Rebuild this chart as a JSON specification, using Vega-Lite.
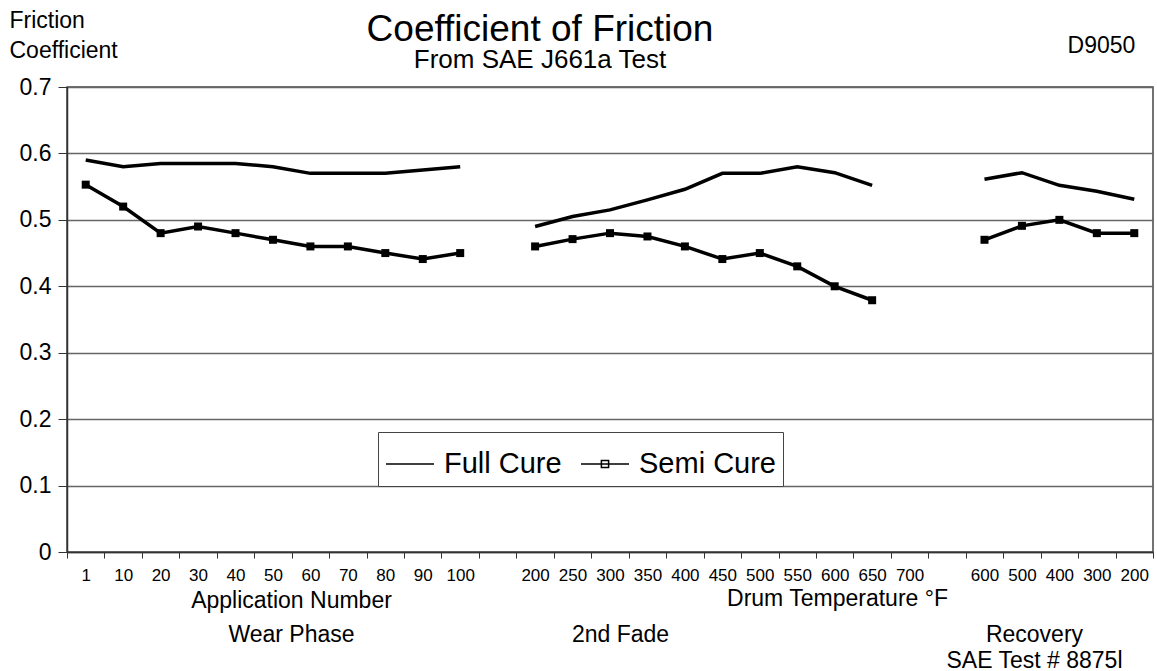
{
  "$schema": "https://vega.github.io/schema/vega-lite/v6.json",
  "autosize": "none",
  "width": 1086,
  "height": 465,
  "padding": {"left": 67, "top": 87, "right": 4, "bottom": 119},
  "background": "white",
  "config": {
    "font": "Liberation Sans",
    "view": {"stroke": "#444", "strokeWidth": 1.5},
    "axis": {"labelColor": "black", "titleColor": "black", "titleFontWeight": "normal", "domainColor": "#333", "tickColor": "#333"}
  },
  "title": {
    "text": "Coefficient of Friction",
    "subtitle": "From SAE J661a Test",
    "fontSize": 37,
    "subtitleFontSize": 26,
    "fontWeight": "normal",
    "color": "black",
    "subtitleColor": "black",
    "anchor": "middle",
    "frame": "group",
    "dx": -70,
    "dy": 69,
    "offset": 4,
    "subtitlePadding": -2
  },
  "data": {
    "values": [
      {"k": "w1", "i": 0, "series": "Full Cure", "phase": "Wear", "v": 0.59},
      {"k": "w10", "i": 1, "series": "Full Cure", "phase": "Wear", "v": 0.58},
      {"k": "w20", "i": 2, "series": "Full Cure", "phase": "Wear", "v": 0.585},
      {"k": "w30", "i": 3, "series": "Full Cure", "phase": "Wear", "v": 0.585},
      {"k": "w40", "i": 4, "series": "Full Cure", "phase": "Wear", "v": 0.585},
      {"k": "w50", "i": 5, "series": "Full Cure", "phase": "Wear", "v": 0.58},
      {"k": "w60", "i": 6, "series": "Full Cure", "phase": "Wear", "v": 0.57},
      {"k": "w70", "i": 7, "series": "Full Cure", "phase": "Wear", "v": 0.57},
      {"k": "w80", "i": 8, "series": "Full Cure", "phase": "Wear", "v": 0.57},
      {"k": "w90", "i": 9, "series": "Full Cure", "phase": "Wear", "v": 0.575},
      {"k": "w100", "i": 10, "series": "Full Cure", "phase": "Wear", "v": 0.58},
      {"k": "f200", "i": 12, "series": "Full Cure", "phase": "Fade", "v": 0.49},
      {"k": "f250", "i": 13, "series": "Full Cure", "phase": "Fade", "v": 0.505},
      {"k": "f300", "i": 14, "series": "Full Cure", "phase": "Fade", "v": 0.515},
      {"k": "f350", "i": 15, "series": "Full Cure", "phase": "Fade", "v": 0.53},
      {"k": "f400", "i": 16, "series": "Full Cure", "phase": "Fade", "v": 0.546},
      {"k": "f450", "i": 17, "series": "Full Cure", "phase": "Fade", "v": 0.57},
      {"k": "f500", "i": 18, "series": "Full Cure", "phase": "Fade", "v": 0.57},
      {"k": "f550", "i": 19, "series": "Full Cure", "phase": "Fade", "v": 0.58},
      {"k": "f600", "i": 20, "series": "Full Cure", "phase": "Fade", "v": 0.571},
      {"k": "f650", "i": 21, "series": "Full Cure", "phase": "Fade", "v": 0.552},
      {"k": "r600", "i": 24, "series": "Full Cure", "phase": "Recovery", "v": 0.561},
      {"k": "r500", "i": 25, "series": "Full Cure", "phase": "Recovery", "v": 0.571},
      {"k": "r400", "i": 26, "series": "Full Cure", "phase": "Recovery", "v": 0.552},
      {"k": "r300", "i": 27, "series": "Full Cure", "phase": "Recovery", "v": 0.543},
      {"k": "r200", "i": 28, "series": "Full Cure", "phase": "Recovery", "v": 0.531},
      {"k": "w1", "i": 0, "series": "Semi Cure", "phase": "Wear", "v": 0.553},
      {"k": "w10", "i": 1, "series": "Semi Cure", "phase": "Wear", "v": 0.52},
      {"k": "w20", "i": 2, "series": "Semi Cure", "phase": "Wear", "v": 0.48},
      {"k": "w30", "i": 3, "series": "Semi Cure", "phase": "Wear", "v": 0.49},
      {"k": "w40", "i": 4, "series": "Semi Cure", "phase": "Wear", "v": 0.48},
      {"k": "w50", "i": 5, "series": "Semi Cure", "phase": "Wear", "v": 0.47},
      {"k": "w60", "i": 6, "series": "Semi Cure", "phase": "Wear", "v": 0.46},
      {"k": "w70", "i": 7, "series": "Semi Cure", "phase": "Wear", "v": 0.46},
      {"k": "w80", "i": 8, "series": "Semi Cure", "phase": "Wear", "v": 0.45},
      {"k": "w90", "i": 9, "series": "Semi Cure", "phase": "Wear", "v": 0.441},
      {"k": "w100", "i": 10, "series": "Semi Cure", "phase": "Wear", "v": 0.45},
      {"k": "f200", "i": 12, "series": "Semi Cure", "phase": "Fade", "v": 0.46},
      {"k": "f250", "i": 13, "series": "Semi Cure", "phase": "Fade", "v": 0.471},
      {"k": "f300", "i": 14, "series": "Semi Cure", "phase": "Fade", "v": 0.48},
      {"k": "f350", "i": 15, "series": "Semi Cure", "phase": "Fade", "v": 0.475},
      {"k": "f400", "i": 16, "series": "Semi Cure", "phase": "Fade", "v": 0.46},
      {"k": "f450", "i": 17, "series": "Semi Cure", "phase": "Fade", "v": 0.441},
      {"k": "f500", "i": 18, "series": "Semi Cure", "phase": "Fade", "v": 0.45},
      {"k": "f550", "i": 19, "series": "Semi Cure", "phase": "Fade", "v": 0.43},
      {"k": "f600", "i": 20, "series": "Semi Cure", "phase": "Fade", "v": 0.40},
      {"k": "f650", "i": 21, "series": "Semi Cure", "phase": "Fade", "v": 0.379},
      {"k": "r600", "i": 24, "series": "Semi Cure", "phase": "Recovery", "v": 0.47},
      {"k": "r500", "i": 25, "series": "Semi Cure", "phase": "Recovery", "v": 0.491},
      {"k": "r400", "i": 26, "series": "Semi Cure", "phase": "Recovery", "v": 0.50},
      {"k": "r300", "i": 27, "series": "Semi Cure", "phase": "Recovery", "v": 0.48},
      {"k": "r200", "i": 28, "series": "Semi Cure", "phase": "Recovery", "v": 0.48}
    ]
  },
  "layer": [
    {
      "mark": {"type": "line", "color": "black", "strokeWidth": 3.5},
      "encoding": {
        "x": {
          "field": "k",
          "type": "ordinal",
          "scale": {
            "domain": ["w1", "w10", "w20", "w30", "w40", "w50", "w60", "w70", "w80", "w90", "w100", "gap1", "f200", "f250", "f300", "f350", "f400", "f450", "f500", "f550", "f600", "f650", "f700", "gap2", "r600", "r500", "r400", "r300", "r200"],
            "paddingInner": 0,
            "paddingOuter": 0
          },
          "axis": {
            "orient": "bottom",
            "labelExpr": "isString(datum.value) && indexof(datum.value, 'gap') < 0 ? substring(datum.value, 1) : ''",
            "labelAngle": 0,
            "labelFontSize": 17,
            "labelPadding": 9,
            "tickBand": "extent",
            "tickSize": 6,
            "domainWidth": 1.5,
            "grid": false,
            "title": ["Application Number", "Wear Phase"],
            "titleFontSize": 23,
            "titleAlign": "center",
            "titleBaseline": "alphabetic",
            "titleX": 224,
            "titleY": 55,
            "titleLineHeight": 34
          }
        },
        "y": {
          "field": "v",
          "type": "quantitative",
          "scale": {"domain": [0, 0.7], "nice": false, "zero": true},
          "axis": {
            "orient": "left",
            "values": [0, 0.1, 0.2, 0.3, 0.4, 0.5, 0.6, 0.7],
            "labelExpr": "datum.value == 0 ? '0' : format(datum.value, '.1f')",
            "labelFontSize": 23,
            "labelPadding": 7,
            "tickSize": 9,
            "grid": true,
            "gridColor": "#666",
            "gridWidth": 1.5,
            "domainWidth": 1.5,
            "title": ["Friction", "Coefficient"],
            "titleFontSize": 23,
            "titleAngle": 0,
            "titleAlign": "left",
            "titleBaseline": "alphabetic",
            "titleX": -58,
            "titleY": -60,
            "titleLineHeight": 30
          }
        },
        "detail": [{"field": "series"}, {"field": "phase"}],
        "order": {"field": "i", "type": "quantitative"}
      }
    },
    {
      "transform": [{"filter": "datum.series == 'Semi Cure'"}],
      "mark": {"type": "point", "shape": "square", "filled": true, "color": "black", "opacity": 1, "size": 64},
      "encoding": {
        "x": {
          "field": "k",
          "type": "ordinal",
          "axis": {
            "orient": "bottom",
            "labels": false, "ticks": false, "domain": false, "grid": false,
            "title": "Drum Temperature °F",
            "titleFontSize": 23,
            "titleAlign": "center",
            "titleBaseline": "alphabetic",
            "titleX": 770,
            "titleY": 53
          }
        },
        "y": {"field": "v", "type": "quantitative"}
      }
    },
    {
      "transform": [{"filter": "datum.series == 'none'"}],
      "mark": {"type": "point", "filled": false, "color": "black", "opacity": 1, "strokeWidth": 3},
      "encoding": {
        "x": {"field": "k", "type": "ordinal", "axis": null},
        "y": {"field": "v", "type": "quantitative"},
        "shape": {
          "field": "series",
          "type": "nominal",
          "scale": {"domain": ["Full Cure", "Semi Cure"], "range": ["M-1,0H1", "M-1,0H1M-0.15,-0.15H0.15V0.15H-0.15Z"]},
          "legend": {
            "title": null,
            "orient": "none",
            "direction": "horizontal",
            "legendX": 311,
            "legendY": 345,
            "strokeColor": "#444",
            "fillColor": "white",
            "padding": 7,
            "labelFontSize": 29,
            "labelColor": "black",
            "labelOffset": 9,
            "columnPadding": 16,
            "symbolSize": 2304
          }
        }
      }
    },
    {
      "mark": {"type": "point", "opacity": 0},
      "encoding": {
        "x": {
          "field": "k",
          "type": "ordinal",
          "axis": {
            "orient": "bottom",
            "labels": false, "ticks": false, "domain": false, "grid": false,
            "title": "2nd Fade",
            "titleFontSize": 23,
            "titleAlign": "center",
            "titleBaseline": "alphabetic",
            "titleX": 553,
            "titleY": 89
          }
        },
        "y": {"field": "v", "type": "quantitative"}
      }
    },
    {
      "mark": {"type": "point", "opacity": 0},
      "encoding": {
        "x": {
          "field": "k",
          "type": "ordinal",
          "axis": {
            "orient": "bottom",
            "labels": false, "ticks": false, "domain": false, "grid": false,
            "title": ["Recovery", "SAE Test # 8875l"],
            "titleFontSize": 23,
            "titleAlign": "center",
            "titleBaseline": "alphabetic",
            "titleX": 967,
            "titleY": 89,
            "titleLineHeight": 26
          }
        },
        "y": {"field": "v", "type": "quantitative"}
      }
    },
    {
      "mark": {"type": "point", "opacity": 0},
      "encoding": {
        "x": {
          "field": "k",
          "type": "ordinal",
          "axis": {
            "orient": "top",
            "labels": false, "ticks": false, "domain": false, "grid": false,
            "title": "D9050",
            "titleFontSize": 23,
            "titleAlign": "center",
            "titleBaseline": "alphabetic",
            "titleX": 1034,
            "titleY": -35
          }
        },
        "y": {"field": "v", "type": "quantitative"}
      }
    }
  ],
  "resolve": {"axis": {"x": "independent"}}
}
